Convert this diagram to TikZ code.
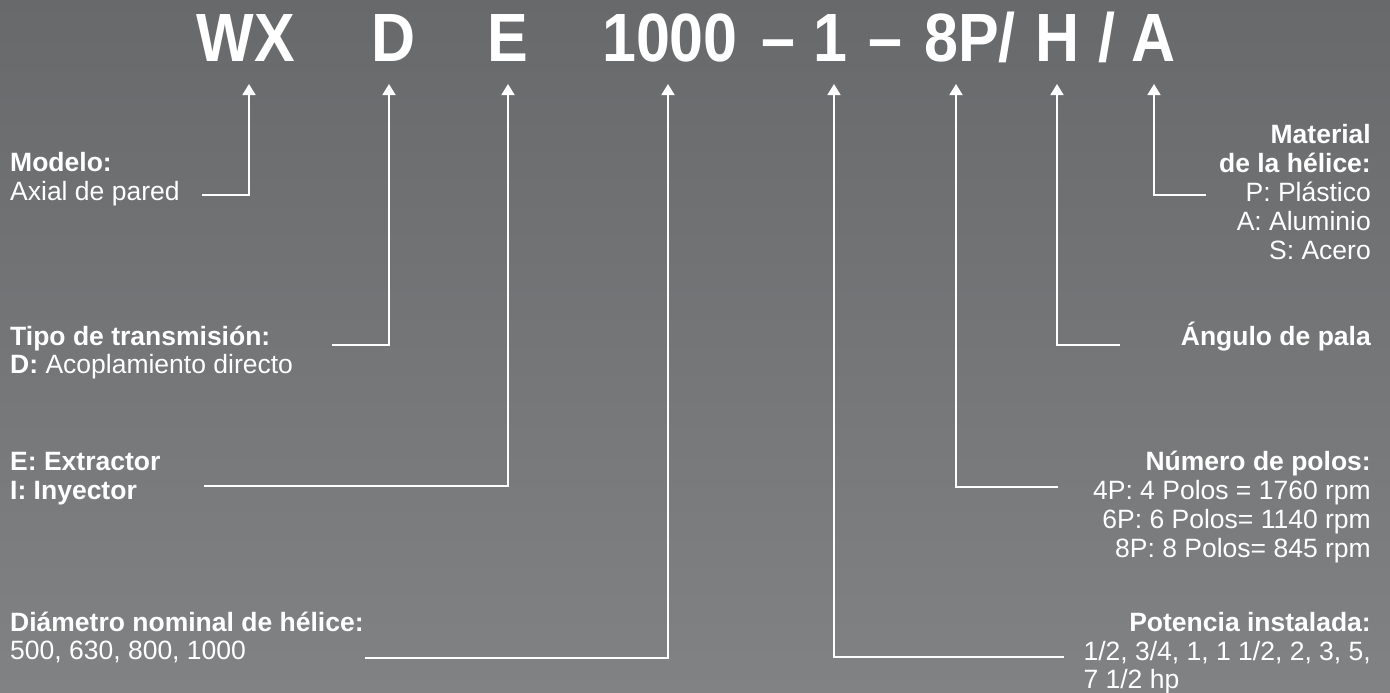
\documentclass[tikz,border=0pt]{standalone}
\usepackage{fontspec}
\setmainfont{Liberation Sans}
\usetikzlibrary{arrows.meta}
\definecolor{bgtop}{RGB}{104,105,107}
\definecolor{bgbottom}{RGB}{129,130,132}
\newcommand{\codefont}{\fontsize{61}{61}\selectfont\bfseries}
\newcommand{\codepart}[1]{\scalebox{1}[1.12]{#1}}

\begin{document}
\begin{tikzpicture}[
  x=1pt, y=-1pt,
  code/.style={anchor=base, inner sep=0pt, text=white, font=\codefont},
  lbl/.style={inner sep=0pt, text=white, font=\fontsize{26.5}{28}\selectfont},
  lblhead/.style={lbl, font=\fontsize{26.5}{28}\selectfont\bfseries},
  link/.style={draw=white, line width=1.6pt, -{Triangle[width=13pt,length=11pt]}}
]
\shade[top color=bgtop, bottom color=bgbottom] (0,0) rectangle (1390,693);
\useasboundingbox (0,0) rectangle (1390,693);

% code string
\node[code] (wx) at (246,62) {\codepart{WX}};
\node[code] (d) at (394,62) {\codepart{D}};
\node[code] (e) at (508,62) {\codepart{E}};
\node[code] (diam) at (670,62) {\codepart{1000}};
\node[code] (dasha) at (778,62) {\codepart{--}};
\node[code] (pot) at (830,62) {\codepart{1}};
\node[code] (dashb) at (885,62) {\codepart{--}};
\node[code] (pol) at (970,62) {\codepart{8P/}};
\node[code] (ang) at (1058,62) {\codepart{H}};
\node[code] (slash) at (1107,62) {\codepart{/}};
\node[code] (mat) at (1154,62) {\codepart{A}};

% arrow tips
\coordinate (tipwx) at (249,84);
\coordinate (tipd) at (389,84);
\coordinate (tipe) at (508,84);
\coordinate (tipdiam) at (668,84);
\coordinate (tippot) at (834,84);
\coordinate (tippol) at (956,84);
\coordinate (tipang) at (1057,84);
\coordinate (tipmat) at (1154,84);

% left labels
\node[lblhead, anchor=base west] (modelo) at (10,171) {Modelo:};
\node[lbl, anchor=base west] (modelotxt) at (10,200) {Axial de pared};
\node[lblhead, anchor=base west] (tipo) at (10,345) {Tipo de transmisión:};
\node[lbl, anchor=base west] (tipotxt) at (10,373) {\textbf{D:} Acoplamiento directo};
\node[lblhead, anchor=base west] (extr) at (10,470) {E: Extractor};
\node[lblhead, anchor=base west] (iny) at (10,499) {I: Inyector};
\node[lblhead, anchor=base west] (diamhead) at (10,631) {Diámetro nominal de hélice:};
\node[lbl, anchor=base west] (diamtxt) at (10,659) {500, 630, 800, 1000};

% right labels
\node[lblhead, anchor=base east] (mathead) at (1371,143) {Material};
\node[lblhead, anchor=base east] (mathead2) at (1371,172) {de la hélice:};
\node[lbl, anchor=base east] (matp) at (1371,201) {P: Plástico};
\node[lbl, anchor=base east] (mata) at (1371,230) {A: Aluminio};
\node[lbl, anchor=base east] (mats) at (1371,259) {S: Acero};
\node[lblhead, anchor=base east] (anghead) at (1371,345) {Ángulo de pala};
\node[lblhead, anchor=base east] (polhead) at (1371,470) {Número de polos:};
\node[lbl, anchor=base east] (pol4) at (1371,499) {4P: 4 Polos = 1760 rpm};
\node[lbl, anchor=base east] (pol6) at (1371,528) {6P: 6 Polos= 1140 rpm};
\node[lbl, anchor=base east] (pol8) at (1371,557) {8P: 8 Polos= 845 rpm};
\node[lblhead, anchor=base east] (pothead) at (1371,631) {Potencia instalada:};
\node[lbl, anchor=base east] (pottxt) at (1371,660) {1/2, 3/4, 1, 1 1/2, 2, 3, 5,};
\node[lbl, anchor=base west] (pottxt2) at ([yshift=-28pt]pottxt.base west) {7 1/2 hp};

% line ends
\coordinate (endwx) at (202,195);
\coordinate (endd) at (332,345);
\coordinate (ende) at (204,486);
\coordinate (enddiam) at (365,658);
\coordinate (endpot) at (1064,657);
\coordinate (endpol) at (1058,487);
\coordinate (endang) at (1120,345);
\coordinate (endmat) at (1206,195);

\draw[link] (endwx) -| (tipwx);
\draw[link] (endd) -| (tipd);
\draw[link] (ende) -| (tipe);
\draw[link] (enddiam) -| (tipdiam);
\draw[link] (endpot) -| (tippot);
\draw[link] (endpol) -| (tippol);
\draw[link] (endang) -| (tipang);
\draw[link] (endmat) -| (tipmat);
\end{tikzpicture}
\end{document}
